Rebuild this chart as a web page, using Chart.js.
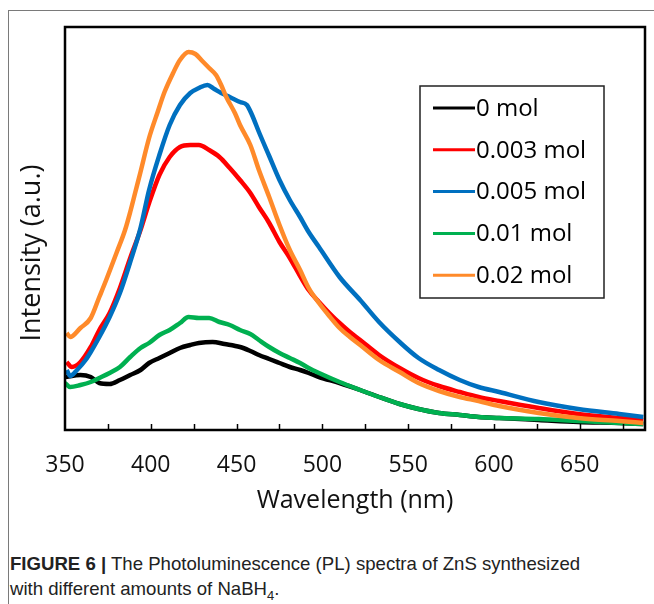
<!DOCTYPE html>
<html>
<head>
<meta charset="utf-8">
<title>PL spectra of ZnS</title>
<script src="https://cdn.jsdelivr.net/npm/chart.js@4/dist/chart.umd.min.js"></script>
<style>
    html, body { margin: 0; padding: 0; background: #fff; }
    body { width: 654px; height: 604px; position: relative; overflow: hidden; }
    #frame { position: absolute; left: 8px; top: 10px; right: 0; bottom: 0;
             border-top: 1px solid #7a7a7a; border-left: 1px solid #7a7a7a; }
    #wrap { position: absolute; left: 0; top: 0; width: 654px; height: 520px; }
    #caption { position: absolute; left: 10px; top: 551px; color: #222;
               font-family: "Liberation Sans Narrow", "Liberation Sans", Arial, sans-serif;
               font-size: 18.6px; line-height: 25px; }
    #caption b { font-weight: bold; }
</style>
</head>
<body>
<div id="frame"></div>
<div id="wrap"><canvas id="plChart" width="654" height="520"></canvas></div>
<div id="caption"><b>FIGURE 6 |</b> The Photoluminescence (PL) spectra of ZnS synthesized<br>with different amounts of NaBH<sub style="font-size:13px">4</sub>.</div>

<script>
// PL spectra (wavelength in nm, intensity in a.u.)
const wl0 = [350, 359, 365, 370, 376, 382, 388, 394, 399, 405, 411, 417, 423, 428, 436, 443, 452, 458, 463, 469, 475, 481, 487, 492, 498, 510, 522, 533, 545, 556, 568, 580, 591, 603, 626, 649, 673, 687];
const int0 = [53, 55, 53, 47, 46, 50, 55, 60, 67, 72, 77, 82, 85, 87, 88, 86, 83, 79, 75, 71, 67, 63, 60, 57, 53, 47, 40, 33, 26, 21, 17, 15, 13, 12, 10, 8, 7, 6];

const wl003 = [351, 354, 359, 365, 370, 376, 382, 388, 394, 399, 405, 411, 417, 423, 428, 434, 440, 446, 452, 458, 463, 469, 475, 481, 487, 492, 498, 504, 510, 516, 522, 533, 545, 556, 568, 580, 591, 603, 626, 649, 673, 687];
const int003 = [68, 63, 68, 83, 100, 117, 142, 172, 200, 227, 255, 273, 283, 285, 285, 280, 273, 262, 250, 237, 223, 207, 188, 172, 154, 140, 128, 117, 107, 98, 90, 75, 62, 52, 44, 38, 33, 29, 22, 16, 12, 10];

const wl005 = [351, 353, 357, 362, 365, 370, 376, 382, 388, 394, 399, 405, 411, 417, 423, 428, 433, 437, 441, 446, 452, 456, 459, 463, 469, 475, 481, 487, 492, 498, 510, 522, 533, 545, 556, 568, 580, 591, 603, 626, 649, 673, 687];
const int005 = [60, 54, 60, 70, 78, 93, 113, 137, 168, 202, 240, 275, 305, 325, 337, 342, 345, 341, 337, 333, 328, 325, 315, 298, 274, 250, 230, 213, 198, 183, 153, 130, 108, 88, 72, 60, 50, 43, 38, 28, 21, 16, 13];

const wl001 = [350, 353, 359, 365, 370, 376, 382, 388, 394, 399, 405, 411, 417, 422, 428, 434, 440, 446, 452, 458, 463, 469, 475, 481, 487, 492, 498, 510, 522, 533, 545, 556, 568, 580, 591, 603, 626, 649, 673, 687];
const int001 = [47, 43, 45, 48, 52, 57, 63, 73, 82, 87, 95, 100, 107, 113, 112, 112, 108, 105, 100, 96, 90, 83, 77, 72, 67, 62, 57, 48, 40, 33, 26, 21, 17, 15, 13, 12, 11, 9, 7, 6];

const wl002 = [351, 353, 359, 365, 370, 374, 380, 385, 388, 391, 394, 399, 404, 408, 413, 417, 422, 426, 430, 434, 438, 441, 444, 449, 452, 458, 463, 469, 475, 481, 487, 492, 498, 504, 510, 516, 522, 533, 545, 556, 568, 580, 591, 603, 626, 649, 673, 687];
const int002 = [97, 93, 102, 112, 133, 150, 177, 200, 218, 238, 258, 292, 318, 338, 357, 370, 378, 376, 369, 362, 355, 345, 333, 317, 305, 285, 260, 233, 205, 180, 160, 142, 127, 114, 102, 93, 85, 70, 58, 47, 39, 33, 29, 24, 17, 12, 9, 7];

const seriesLabels = ['0 mol', '0.003 mol', '0.005 mol', '0.01 mol', '0.02 mol'];
const xTickLabels = [350, 400, 450, 500, 550, 600, 650];
const xTickMarks = [375, 400, 425, 450, 475, 500, 525, 550, 575, 600, 625, 650, 675];

// colours for each series, same order as the labels
const seriesColors = ['#000000', '#ff0000', '#0070c0', '#00b050', '#ff8a2a'];

const AXIS_FONT = '"Open Sans", "Noto Sans", sans-serif';

function toPoints(xs, ys) {
    return xs.map((x, i) => ({ x: x, y: ys[i] }));
}

const seriesData = [
    toPoints(wl0, int0),
    toPoints(wl003, int003),
    toPoints(wl005, int005),
    toPoints(wl001, int001),
    toPoints(wl002, int002)
];

// Box around the plot, inward tick marks and the y axis title
const frameAndTicks = {
    id: 'frameAndTicks',
    afterDraw(chart) {
        const { ctx, chartArea: a, scales } = chart;
        ctx.save();
        ctx.strokeStyle = '#000';
        ctx.lineWidth = 1.5;
        xTickMarks.forEach(v => {
            const px = Math.round(scales.x.getPixelForValue(v)) + 0.5;
            ctx.beginPath();
            ctx.moveTo(px, a.bottom);
            ctx.lineTo(px, a.bottom - 6);
            ctx.stroke();
        });
        ctx.lineWidth = 2.5;
        ctx.strokeRect(a.left, a.top, a.right - a.left, a.bottom - a.top);

        // y title sits a bit below the middle in the original
        ctx.translate(32, 253);
        ctx.rotate(-Math.PI / 2);
        ctx.font = '27px ' + AXIS_FONT;
        ctx.fillStyle = '#111';
        ctx.textAlign = 'center';
        ctx.textBaseline = 'middle';
        ctx.fillText('Intensity (a.u.)', 0, 0);
        ctx.restore();
    }
};

// Legend drawn inside the plot area, like the Excel one
const boxLegend = {
    id: 'boxLegend',
    afterDraw(chart) {
        const { ctx } = chart;
        const boxX = 420, boxY = 86, boxW = 184, boxH = 212;
        ctx.save();
        ctx.fillStyle = '#fff';
        ctx.fillRect(boxX, boxY, boxW, boxH);
        ctx.strokeStyle = '#222';
        ctx.lineWidth = 1.5;
        ctx.strokeRect(boxX, boxY, boxW, boxH);
        ctx.font = '24px ' + AXIS_FONT;
        ctx.textBaseline = 'middle';
        ctx.fillStyle = '#000';
        chart.data.datasets.forEach((ds, i) => {
            const y = boxY + 22 + i * 41.8;
            ctx.strokeStyle = ds.borderColor;
            ctx.lineWidth = 3;
            ctx.beginPath();
            ctx.moveTo(433, y);
            ctx.lineTo(475, y);
            ctx.stroke();
            ctx.fillText(ds.label, 476, y + 1);
        });
        ctx.restore();
    }
};

const ctx = document.getElementById('plChart').getContext('2d');

new Chart(ctx, {
    type: 'line',
    data: {
        datasets: seriesLabels.map((label, i) => ({
            label: label,
            data: seriesData[i],
            borderColor: seriesColors[i],
            backgroundColor: seriesColors[i],
            borderWidth: 4.5,
            pointRadius: 0,
            cubicInterpolationMode: 'monotone',
            fill: false,
            order: seriesLabels.length - i // later series drawn on top
        }))
    },
    options: {
        responsive: false,
        animation: false,
        devicePixelRatio: 1,
        layout: { padding: { left: 0, top: 27, right: 9, bottom: 0 } },
        plugins: {
            legend: { display: false },
            tooltip: { enabled: false }
        },
        scales: {
            x: {
                type: 'linear',
                min: 350,
                max: 688,
                afterBuildTicks: scale => {
                    scale.ticks = xTickLabels.map(v => ({ value: v }));
                },
                afterFit: scale => { scale.height = 90; },
                grid: { display: false, drawTicks: false },
                border: { display: false },
                ticks: {
                    padding: 22,
                    maxRotation: 0,
                    autoSkip: false,
                    color: '#111',
                    font: { family: AXIS_FONT, size: 23 }
                },
                title: {
                    display: true,
                    text: 'Wavelength (nm)',
                    color: '#111',
                    font: { family: AXIS_FONT, size: 25 },
                    padding: { top: 0, bottom: 4 }
                }
            },
            y: {
                min: 0,
                max: 403,
                afterFit: scale => { scale.width = 65; },
                grid: { display: false, drawTicks: false },
                border: { display: false },
                ticks: { display: false },
                title: { display: false }
            }
        }
    },
    plugins: [frameAndTicks, boxLegend]
});
</script>
</body>
</html>
